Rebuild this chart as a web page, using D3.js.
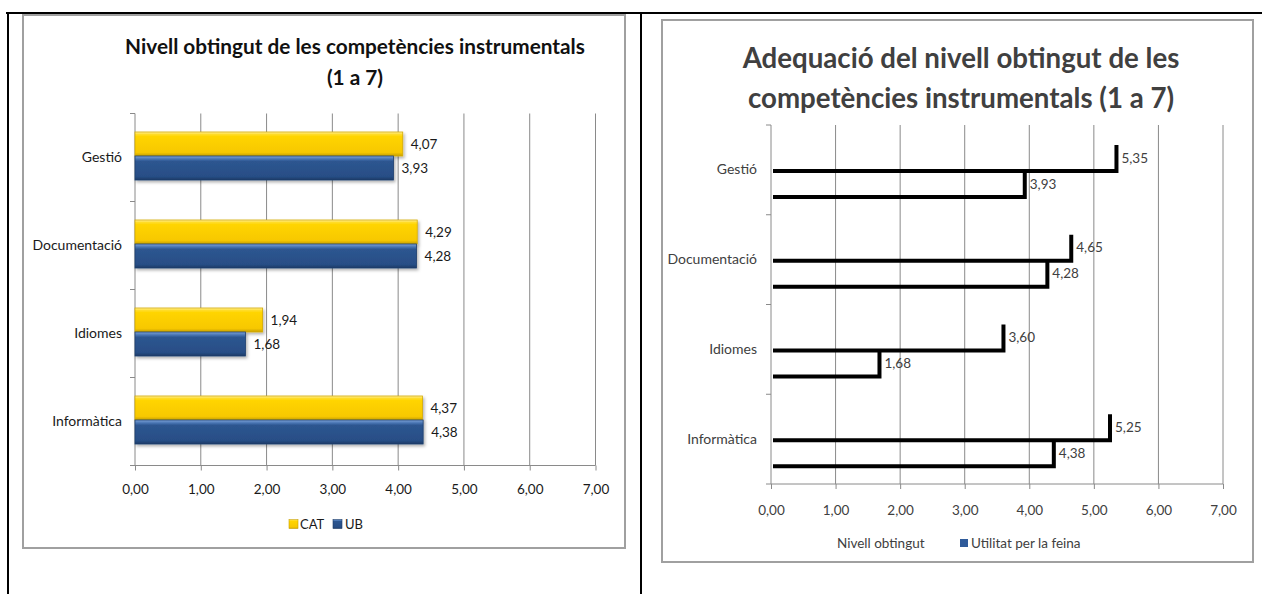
<!DOCTYPE html>
<html><head><meta charset="utf-8">
<script src="https://cdn.jsdelivr.net/npm/d3@7"></script>
<style>
body{margin:0;background:#fff}
svg{display:block}
text{font-family:Lato,"Open Sans",sans-serif}
</style>
</head><body>
<svg id="c" width="1262" height="594"></svg>
<script>
// ---------- data ----------
const categories = ["Gestió","Documentació","Idiomes","Informàtica"];
const catValues = [4.07, 4.29, 1.94, 4.37];        // CAT
const ubValues = [3.93, 4.28, 1.68, 4.38];         // UB
const nivellValues = [3.93, 4.28, 1.68, 4.38];     // Nivell obtingut
const utilitatValues = [5.35, 4.65, 3.60, 5.25];   // Utilitat per la feina
const xTicks = [0,1,2,3,4,5,6,7];
const leftTitle = ["Nivell obtingut de les competències instrumentals","(1 a 7)"];
const rightTitle = ["Adequació del nivell obtingut de les","competències instrumentals (1 a 7)"];
const leftLegend = ["CAT","UB"];
const rightLegend = ["Nivell obtingut","Utilitat per la feina"];

const fmt = v => d3.format(".2f")(v).replace(".", ",");
const svg = d3.select("#c");

// ---------- defs ----------
const defs = svg.append("defs");
function grad(id, stops){
  const g = defs.append("linearGradient").attr("id", id).attr("x1",0).attr("y1",0).attr("x2",0).attr("y2",1);
  stops.forEach(s => g.append("stop").attr("offset", s[0]).attr("stop-color", s[1]));
}
grad("gY", [["0%","#fff0a0"],["10%","#ffdc2a"],["20%","#ffd400"],["85%","#f7c800"],["100%","#c8a000"]]);
grad("gB", [["0%","#7ea3d6"],["12%","#4a76b4"],["22%","#2d5690"],["85%","#284e86"],["100%","#1b3a66"]]);
const f = defs.append("filter").attr("id","sh").attr("x","-5%").attr("y","-20%").attr("width","115%").attr("height","160%");
f.append("feDropShadow").attr("dx",1.5).attr("dy",2).attr("stdDeviation",1.5).attr("flood-color","#000").attr("flood-opacity",0.3);

// ---------- page frame ----------
svg.append("line").attr("x1",6).attr("x2",1262).attr("y1",13).attr("y2",13).attr("stroke","#000").attr("stroke-width",2);
svg.append("line").attr("x1",8).attr("x2",8).attr("y1",12).attr("y2",594).attr("stroke","#000").attr("stroke-width",2);
svg.append("line").attr("x1",641).attr("x2",641).attr("y1",12).attr("y2",594).attr("stroke","#000").attr("stroke-width",2);

svg.append("rect").attr("x",23).attr("y",15).attr("width",602).attr("height",533)
  .attr("fill","#fff").attr("stroke","#a0a0a0").attr("stroke-width",2);
svg.append("rect").attr("x",662).attr("y",20).attr("width",591).attr("height",542)
  .attr("fill","#fff").attr("stroke","#a0a0a0").attr("stroke-width",2);

// size the title so that the lines best match the given target widths
function fitTitle(g, lines, cx, ys, targets, color){
  const ws = lines.map(l => {
    const t = g.append("text").attr("font-weight","bold").attr("font-size",20).text(l);
    const w = t.node().getComputedTextLength(); t.remove(); return w;
  });
  let num = 0, den = 0;
  ws.forEach((w,i) => { if (targets[i] != null) { num += w*targets[i]; den += w*w; } });
  const size = 20 * num / den;
  lines.forEach((l,i) => g.append("text").attr("x",cx).attr("y",ys[i]).attr("text-anchor","middle")
    .attr("font-weight","bold").attr("font-size",size).attr("fill",color).text(l));
}

// ---------- LEFT CHART ----------
{
  const g = svg.append("g");
  const x = d3.scaleLinear().domain([0,7]).range([135,595.5]);
  const y = d3.scaleBand().domain(categories).range([113.5,465.5]);
  const top = 113.5, bottom = 465.5, bh = 24;

  fitTitle(g, leftTitle, 355, [54, 85], [460, null], "#111");

  g.selectAll(".gl").data(xTicks.slice(1)).join("line")
    .attr("x1",d=>x(d)).attr("x2",d=>x(d)).attr("y1",top).attr("y2",bottom)
    .attr("stroke","#8a8a8a").attr("stroke-width",1);
  g.append("line").attr("x1",x(0)).attr("x2",x(0)).attr("y1",top).attr("y2",bottom).attr("stroke","#8a8a8a");
  const bounds = categories.map(c=>y(c)).concat([bottom]);
  g.selectAll(".ct").data(bounds).join("line")
    .attr("x1",x(0)-5).attr("x2",x(0)).attr("y1",d=>d).attr("y2",d=>d).attr("stroke","#8a8a8a");

  const ax = g.append("g").attr("transform",`translate(0,${bottom})`)
    .call(d3.axisBottom(x).tickValues(xTicks).tickSize(5).tickPadding(14).tickFormat(fmt));
  ax.select(".domain").attr("stroke","#8a8a8a").attr("d",`M${x(0)},0H${x(7)}`);
  ax.selectAll(".tick line").attr("stroke","#8a8a8a");
  ax.selectAll("text").attr("font-size",13.5).attr("fill","#1a1a1a").style("font-family","Lato");

  const ay = g.append("g").attr("transform",`translate(${x(0)},0)`)
    .call(d3.axisLeft(y).tickSize(0).tickPadding(13));
  ay.select(".domain").remove();
  ay.selectAll("text").attr("font-size",14).attr("fill","#1a1a1a").style("font-family","Lato");

  const cy = c => y(c) + y.bandwidth()/2 - 1.5;
  g.selectAll(".by").data(categories).join("rect")
    .attr("x",x(0)).attr("y",c=>cy(c)-bh).attr("height",bh)
    .attr("width",(c,i)=>x(catValues[i])-x(0))
    .attr("fill","url(#gY)").attr("stroke","#d4aa00").attr("stroke-width",0.8).attr("filter","url(#sh)");
  g.selectAll(".bb").data(categories).join("rect")
    .attr("x",x(0)).attr("y",c=>cy(c)).attr("height",bh)
    .attr("width",(c,i)=>x(ubValues[i])-x(0))
    .attr("fill","url(#gB)").attr("stroke","#1e3f6e").attr("stroke-width",0.8).attr("filter","url(#sh)");
  g.selectAll(".ly").data(categories).join("text")
    .attr("x",(c,i)=>x(catValues[i])+8).attr("y",c=>cy(c)-bh/2).attr("dy","0.36em")
    .attr("font-size",13.5).attr("fill","#1a1a1a").text((c,i)=>fmt(catValues[i]));
  g.selectAll(".lb").data(categories).join("text")
    .attr("x",(c,i)=>x(ubValues[i])+8).attr("y",c=>cy(c)+bh/2).attr("dy","0.36em")
    .attr("font-size",13.5).attr("fill","#1a1a1a").text((c,i)=>fmt(ubValues[i]));

  const lg = g.append("g").attr("transform","translate(289,524)");
  lg.append("rect").attr("x",0).attr("y",-4.5).attr("width",9).attr("height",9).attr("fill","url(#gY)").attr("stroke","#c8a000").attr("stroke-width",0.6);
  lg.append("text").attr("x",11).attr("dy","0.36em").attr("font-size",13).attr("fill","#1a1a1a").text(leftLegend[0]);
  lg.append("rect").attr("x",44).attr("y",-4.5).attr("width",9).attr("height",9).attr("fill","url(#gB)").attr("stroke","#1b3a66").attr("stroke-width",0.6);
  lg.append("text").attr("x",56).attr("dy","0.36em").attr("font-size",13).attr("fill","#1a1a1a").text(leftLegend[1]);
}

// ---------- RIGHT CHART ----------
{
  const g = svg.append("g");
  const x = d3.scaleLinear().domain([0,7]).range([771,1223]);
  const y = d3.scaleBand().domain(categories).range([125,484]);
  const top = 125, bottom = 484, bh = 26;

  fitTitle(g, rightTitle, 961, [68, 108], [410, 454], "#404040");

  g.selectAll(".gl").data(xTicks.slice(1)).join("line")
    .attr("x1",d=>x(d)).attr("x2",d=>x(d)).attr("y1",top).attr("y2",bottom)
    .attr("stroke","#8a8a8a").attr("stroke-width",1);
  g.append("line").attr("x1",x(0)).attr("x2",x(0)).attr("y1",top).attr("y2",bottom).attr("stroke","#8a8a8a");
  const bounds = categories.map(c=>y(c)).concat([bottom]);
  g.selectAll(".ct").data(bounds).join("line")
    .attr("x1",x(0)-5).attr("x2",x(0)).attr("y1",d=>d).attr("y2",d=>d).attr("stroke","#8a8a8a");

  const ax = g.append("g").attr("transform",`translate(0,${bottom})`)
    .call(d3.axisBottom(x).tickValues(xTicks).tickSize(5).tickPadding(16.5).tickFormat(fmt));
  ax.select(".domain").attr("stroke","#8a8a8a").attr("d",`M${x(0)},0H${x(7)}`);
  ax.selectAll(".tick line").attr("stroke","#8a8a8a");
  ax.selectAll("text").attr("font-size",13.5).attr("fill","#404040").style("font-family","Lato");

  const ay = g.append("g").attr("transform",`translate(${x(0)},0)`)
    .call(d3.axisLeft(y).tickSize(0).tickPadding(14));
  ay.select(".domain").remove();
  ay.selectAll("text").attr("font-size",14).attr("fill","#404040").style("font-family","Lato");

  const cy = c => y(c) + y.bandwidth()/2 + 1;
  g.selectAll(".bu").data(categories).join("path")
    .attr("d",(c,i)=>`M${x(0)+2},${cy(c)} H${x(utilitatValues[i])} V${cy(c)-bh}`)
    .attr("fill","none").attr("stroke","#000").attr("stroke-width",4);
  g.selectAll(".bn").data(categories).join("path")
    .attr("d",(c,i)=>`M${x(0)+2},${cy(c)+bh} H${x(nivellValues[i])} V${cy(c)}`)
    .attr("fill","none").attr("stroke","#000").attr("stroke-width",4);
  g.selectAll(".lu").data(categories).join("text")
    .attr("x",(c,i)=>x(utilitatValues[i])+5).attr("y",c=>cy(c)-bh/2).attr("dy","0.36em")
    .attr("font-size",13.5).attr("fill","#404040").text((c,i)=>fmt(utilitatValues[i]));
  g.selectAll(".ln").data(categories).join("text")
    .attr("x",(c,i)=>x(nivellValues[i])+5).attr("y",c=>cy(c)+bh/2).attr("dy","0.36em")
    .attr("font-size",13.5).attr("fill","#404040").text((c,i)=>fmt(nivellValues[i]));

  const lg = g.append("g").attr("transform","translate(826,543)");
  lg.append("rect").attr("x",0).attr("y",-4).attr("width",8).attr("height",8).attr("fill","none");
  lg.append("text").attr("x",11).attr("dy","0.36em").attr("font-size",13.5).attr("fill","#404040").text(rightLegend[0]);
  lg.append("rect").attr("x",134).attr("y",-4).attr("width",8).attr("height",8).attr("fill","#2f5b9a");
  lg.append("text").attr("x",145).attr("dy","0.36em").attr("font-size",13.5).attr("fill","#404040").text(rightLegend[1]);
}
</script>
</body></html>
